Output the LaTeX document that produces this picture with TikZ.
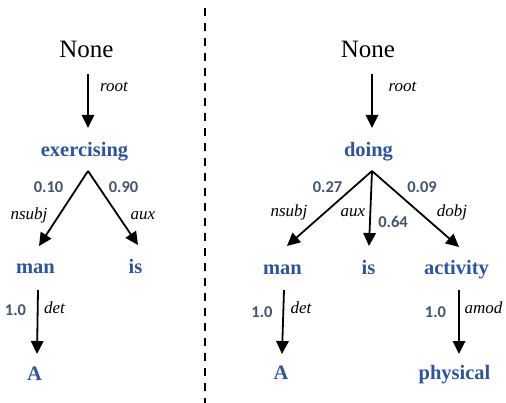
\documentclass[tikz,border=0pt]{standalone}
\usepackage{fontspec}
\setmainfont{Liberation Serif}
\newfontfamily\numfont{Carlito}
\usetikzlibrary{arrows.meta,calc}
\definecolor{wblue}{HTML}{2F5597}
\definecolor{ngray}{HTML}{44546A}
\tikzset{
  word/.style={anchor=base,inner sep=0pt,text=wblue,font=\fontsize{20.5}{24}\selectfont\bfseries},
  root/.style={anchor=base,inner sep=0pt,font=\fontsize{25}{30}\selectfont},
  rel/.style={anchor=base,inner sep=0pt,font=\fontsize{17}{20}\selectfont\itshape},
  prob/.style={anchor=base,inner sep=0pt,text=ngray,font=\fontsize{16.5}{20}\selectfont\numfont\bfseries},
  arr/.style={line width=1.8pt,-{Triangle[width=12.5pt,length=13pt]}},
  sep/.style={line width=2pt,dash pattern=on 8pt off 7pt}
}
\begin{document}
\begin{tikzpicture}[x=1pt,y=-1pt]
\useasboundingbox (0,0) rectangle (506,403);
% separator
\coordinate (s1) at (205.3,8);
\coordinate (s2) at (205.3,403);
\draw[sep] (s1) -- (s2);
% left tree
\node[root] (none1) at (86.5,58) {None};
\node[word] (ex1) at (84.5,157) {exercising};
\node[word] (man1) at (35.5,274) {man};
\node[word] (is1) at (135.5,274) {is};
\node[word] (a1) at (34.5,380) {A};
\node[rel] (r1) at (114,92) {root};
\node[prob] (p1) at (48.5,193) {0.10};
\node[prob] (p2) at (123.5,193) {0.90};
\node[rel] (ns1) at (29,220) {nsubj};
\node[rel] (ax1) at (143,220) {aux};
\node[prob] (p3) at (15.5,316) {1.0};
\node[rel] (d1) at (54.5,313) {det};
\coordinate (ap1) at ($(ex1.base)+(3.5,14)$);
\draw[arr] ($(none1.base)+(1.5,16)$) -- ($(none1.base)+(1.5,70)$);
\draw[arr] (ap1) -- ($(man1.base)+(3.5,-28)$);
\draw[arr] (ap1) -- ($(is1.base)+(2.5,-29)$);
\draw[arr] ($(man1.base)+(2.5,16)$) -- ($(a1.base)+(2.5,-26)$);
% right tree
\node[root] (none2) at (368,58) {None};
\node[word] (do2) at (368.5,157) {doing};
\node[word] (man2) at (282.5,275) {man};
\node[word] (is2) at (368.5,275) {is};
\node[word] (act2) at (456.5,275) {activity};
\node[word] (a2) at (281,379) {A};
\node[word] (phy2) at (454.5,379) {physical};
\node[rel] (r2) at (402.5,92) {root};
\node[prob] (q1) at (327.5,193) {0.27};
\node[prob] (q2) at (422,193) {0.09};
\node[prob] (q3) at (393,228) {0.64};
\node[rel] (ns2) at (289,217) {nsubj};
\node[rel] (ax2) at (353,217) {aux};
\node[rel] (db2) at (452,217) {dobj};
\node[prob] (q4) at (262,318) {1.0};
\node[prob] (q5) at (435.5,318) {1.0};
\node[rel] (d2) at (301,313) {det};
\node[rel] (am2) at (483.5,313) {amod};
\coordinate (ap2) at ($(do2.base)+(3.5,14)$);
\draw[arr] ($(none2.base)+(4,16)$) -- ($(none2.base)+(4,70)$);
\draw[arr] (ap2) -- ($(man2.base)+(4.5,-29)$);
\draw[arr] (ap2) -- ($(is2.base)+(0.5,-29)$);
\draw[arr] (ap2) -- ($(act2.base)+(2.5,-28)$);
\draw[arr] ($(man2.base)+(1.5,15)$) -- ($(a2.base)+(1,-25)$);
\draw[arr] ($(act2.base)+(2.5,15)$) -- ($(phy2.base)+(4.5,-25)$);
\end{tikzpicture}
\end{document}
